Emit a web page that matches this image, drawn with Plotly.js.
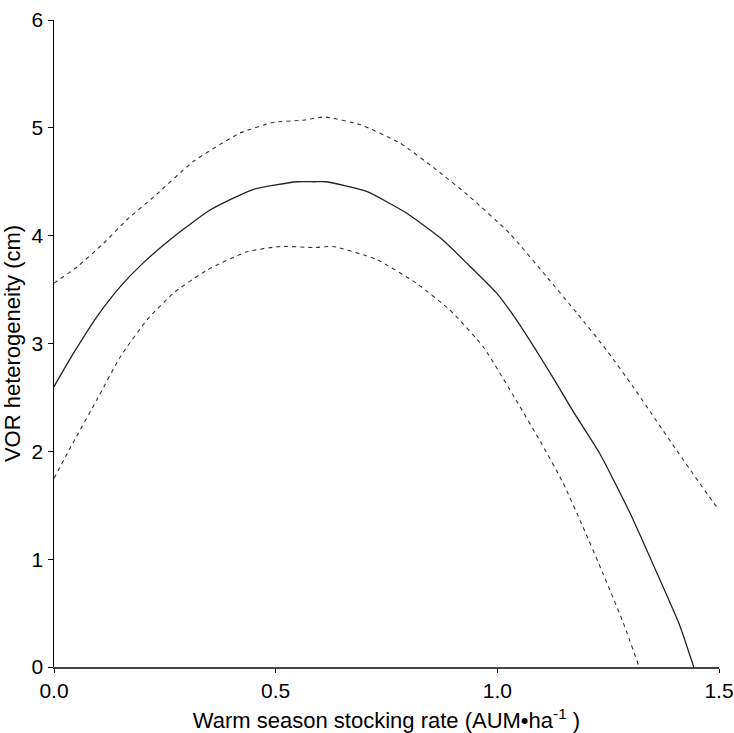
<!DOCTYPE html>
<html>
<head>
<meta charset="utf-8">
<script src="https://cdn.plot.ly/plotly-3.0.1.min.js"></script>
<style>
  html, body { margin: 0; padding: 0; background: #fff; }
  #chart { width: 734px; height: 733px; }
</style>
</head>
<body>
<div id="chart"></div>
<script>
// Fitted VOR heterogeneity vs. warm season stocking rate, with confidence bounds
const fitX = [0, 0.044, 0.097, 0.150, 0.202, 0.270, 0.353, 0.450, 0.548, 0.586, 0.614, 0.705, 0.795, 0.877, 0.930, 0.998, 1.043, 1.084, 1.129, 1.171, 1.231, 1.299, 1.359, 1.411, 1.443];
const fitY = [2.60, 2.91, 3.25, 3.53, 3.75, 3.99, 4.24, 4.43, 4.50, 4.50, 4.50, 4.41, 4.21, 3.96, 3.75, 3.47, 3.22, 2.96, 2.66, 2.37, 1.98, 1.43, 0.88, 0.39, 0.0];

const upperX = [0, 0.052, 0.112, 0.165, 0.225, 0.315, 0.419, 0.494, 0.560, 0.610, 0.690, 0.780, 0.863, 0.938, 1.028, 1.111, 1.180, 1.246, 1.306, 1.396, 1.494, 1.5];
const upperY = [3.56, 3.71, 3.93, 4.15, 4.36, 4.69, 4.95, 5.05, 5.07, 5.10, 5.03, 4.86, 4.61, 4.36, 4.02, 3.62, 3.28, 2.94, 2.60, 2.06, 1.49, 1.47];

const lowerX = [0, 0.043, 0.097, 0.150, 0.210, 0.270, 0.345, 0.435, 0.511, 0.586, 0.629, 0.727, 0.817, 0.893, 0.968, 1.043, 1.100, 1.148, 1.193, 1.238, 1.284, 1.320];
const lowerY = [1.75, 2.08, 2.48, 2.88, 3.22, 3.47, 3.68, 3.85, 3.90, 3.89, 3.90, 3.78, 3.56, 3.31, 2.97, 2.47, 2.07, 1.71, 1.30, 0.87, 0.41, 0.0];

const xTicks = [0, 0.5, 1.0, 1.5];
const xTickText = ['0.0', '0.5', '1.0', '1.5'];
const yTicks = [0, 1, 2, 3, 4, 5, 6];

const font = 'Liberation Sans, Arial, sans-serif';

const traces = [
  { x: upperX, y: upperY, mode: 'lines', line: { color: '#333', width: 1.1, dash: '4px,4px', shape: 'spline', smoothing: 0.5 }, hoverinfo: 'skip' },
  { x: lowerX, y: lowerY, mode: 'lines', line: { color: '#333', width: 1.1, dash: '4px,4px', shape: 'spline', smoothing: 0.5 }, hoverinfo: 'skip' },
  { x: fitX, y: fitY, mode: 'lines', line: { color: '#222', width: 1.3, shape: 'spline', smoothing: 0.5 }, hoverinfo: 'skip' }
];

const layout = {
  width: 734,
  height: 733,
  margin: { l: 54, r: 15, t: 20, b: 66 },
  paper_bgcolor: '#fff',
  plot_bgcolor: '#fff',
  showlegend: false,
  font: { family: font, color: '#000' },
  xaxis: {
    range: [0, 1.5],
    tickvals: xTicks,
    ticktext: xTickText,
    ticks: 'outside',
    ticklen: 4,
    tickwidth: 1,
    tickcolor: '#000',
    showline: true,
    linecolor: '#444',
    linewidth: 1.5,
    showgrid: false,
    zeroline: false,
    automargin: false,
    tickfont: { size: 21, family: font },
    title: { text: 'Warm season stocking rate (AUM•ha<sup>-1</sup> )', font: { size: 22, family: font } }
  },
  yaxis: {
    range: [0, 6],
    tickvals: yTicks,
    ticks: 'outside',
    ticklen: 5,
    tickwidth: 1,
    tickcolor: '#000',
    showline: true,
    linecolor: '#000',
    linewidth: 1.5,
    showgrid: false,
    zeroline: false,
    automargin: false,
    tickfont: { size: 21, family: font },
    title: { text: 'VOR heterogeneity (cm)', font: { size: 22, family: font } }
  }
};

Plotly.newPlot('chart', traces, layout, { displayModeBar: false, staticPlot: true });
</script>
</body>
</html>
